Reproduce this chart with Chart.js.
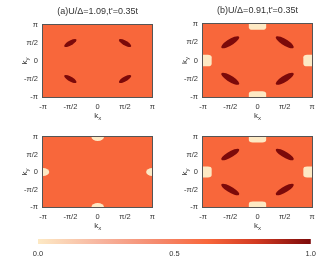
<!DOCTYPE html>
<html>
<head>
<meta charset="utf-8">
<script src="https://cdn.jsdelivr.net/npm/chart.js@4.4.1/dist/chart.umd.min.js"></script>
<style>
  html, body { margin: 0; padding: 0; background: #fff; }
  #wrap { position: relative; width: 321px; height: 258px; overflow: hidden; }
  #wrap div { position: absolute; }
</style>
</head>
<body>
<div id="wrap">
  <div style="left:0;top:0;width:160px;height:125px"><canvas id="pa"></canvas></div>
  <div style="left:160px;top:0;width:161px;height:125px"><canvas id="pb"></canvas></div>
  <div style="left:0;top:125px;width:160px;height:110px"><canvas id="pc"></canvas></div>
  <div style="left:160px;top:125px;width:161px;height:110px"><canvas id="pd"></canvas></div>
  <div style="left:0;top:232px;width:321px;height:26px"><canvas id="cb"></canvas></div>
</div>
<script>
const PI = Math.PI;

// axis ticks (both kx and ky)
const tickVals = [-PI, -PI / 2, 0, PI / 2, PI];
const tickText = ["-\u03c0", "-\u03c0/2", "0", "\u03c0/2", "\u03c0"];

// panels a, b, c, d
const panelIds = ["pa", "pb", "pc", "pd"];
const panelTitles = ["(a)U/\u0394=1.09,t'=0.35t", "(b)U/\u0394=0.91,t'=0.35t", "", ""];

// dark nodal pockets near (+-pi/2, +-pi/2)
const nodeKx = [-PI / 2, PI / 2, -PI / 2, PI / 2];
const nodeKy = [PI / 2, PI / 2, -PI / 2, -PI / 2];
const nodeTilt = [45, -45, -45, 45];            // degrees, in k-space
const nodeLong = [0.47, 0.7, 0, 0.7];           // semi-major, rad
const nodeShort = [0.18, 0.23, 0, 0.23];        // semi-minor, rad

// pale antinodal pockets at (0, +-pi), (+-pi, 0)
const pocketKx = [0, 0, -PI, PI];
const pocketKy = [PI, -PI, 0, 0];
const pocketHalf = [0, 0.5, 0.36, 0.5];         // half-size, rad
const pocketRound = [0, 0.22, 0.36, 0.22];      // corner radius, rad

// weight values
const bgValue = 0.62;
const nodeValue = 1.0;
const pocketValue = 0.0;

// colour bar
const cbTicks = [0, 0.5, 1];
const cbText = ["0.0", "0.5", "1.0"];

const cmapStops = [
    [0.0, "#fde9c4"],
    [0.22, "#f7b6a0"],
    [0.45, "#f5876a"],
    [0.62, "#f8673b"],
    [0.8, "#d23a22"],
    [1.0, "#7c0a0a"],
];

// nearest stop colour for a weight value
function cmap(v) {
    let best = cmapStops[0];
    for (const s of cmapStops) {
        if (Math.abs(s[0] - v) < Math.abs(best[0] - v)) best = s;
    }
    return best[1];
}

const FONT = "'Liberation Sans', Arial, sans-serif";
const TXT = "#333";

// fill, blobs, frame, titles
const mapPlugin = {
    id: "kmap",
    beforeDatasetsDraw(chart) {
        const { ctx, chartArea: a } = chart;
        ctx.save();
        ctx.fillStyle = cmap(bgValue);
        ctx.fillRect(a.left, a.top, a.right - a.left, a.bottom - a.top);
        ctx.beginPath();
        ctx.rect(a.left, a.top, a.right - a.left, a.bottom - a.top);
        ctx.clip();
        const xs = chart.scales.x, ys = chart.scales.y;
        const sx = xs.getPixelForValue(1) - xs.getPixelForValue(0);
        const sy = ys.getPixelForValue(0) - ys.getPixelForValue(1);
        for (const ds of chart.data.datasets) {
            ds.data.forEach(p => {
                ctx.save();
                ctx.translate(xs.getPixelForValue(p.x), ys.getPixelForValue(p.y));
                ctx.scale(sx, -sy);
                ctx.beginPath();
                if (ds.kind === "node") {
                    ctx.rotate(p.tilt * PI / 180);
                    ctx.ellipse(0, 0, ds.rLong, ds.rShort, 0, 0, 2 * PI);
                } else {
                    const h = ds.half;
                    ctx.roundRect(-h, -h, 2 * h, 2 * h, ds.round);
                }
                ctx.fillStyle = ds.color;
                ctx.fill();
                ctx.restore();
            });
        }
        ctx.restore();
    },
    afterDraw(chart) {
        const { ctx, chartArea: a } = chart;
        const o = chart.options.plugins.kmap;
        ctx.save();
        ctx.strokeStyle = "#555";
        ctx.lineWidth = 1;
        ctx.strokeRect(Math.round(a.left) - 0.5, Math.round(a.top) - 0.5,
            Math.round(a.right - a.left) + 1, Math.round(a.bottom - a.top) + 1);
        ctx.fillStyle = TXT;
        const cx = (a.left + a.right) / 2;
        if (o.title) {
            ctx.font = "9px " + FONT;
            ctx.textAlign = "center";
            ctx.textBaseline = "middle";
            ctx.fillText(o.title, cx, a.top - 13);
        }
        // k_x
        drawSub(ctx, "k", "x", cx, a.bottom + 19);
        // k_y
        ctx.translate(a.left - 18, (a.top + a.bottom) / 2);
        ctx.rotate(-PI / 2);
        drawSub(ctx, "k", "y", 0, 0);
        ctx.restore();
    }
};

function drawSub(ctx, main, sub, x, y) {
    ctx.font = "8px " + FONT;
    const w1 = ctx.measureText(main).width;
    ctx.font = "6px " + FONT;
    const w2 = ctx.measureText(sub).width;
    const x0 = x - (w1 + w2) / 2;
    ctx.textAlign = "left";
    ctx.textBaseline = "middle";
    ctx.font = "8px " + FONT;
    ctx.fillText(main, x0, y);
    ctx.font = "6px " + FONT;
    ctx.fillText(sub, x0 + w1, y + 2.5);
}

function kAxis(fitSize, horizontal) {
    return {
        type: "linear",
        min: -PI,
        max: PI,
        afterBuildTicks: s => { s.ticks = tickVals.map(v => ({ value: v })); },
        afterFit: s => { if (horizontal) s.height = fitSize; else s.width = fitSize; },
        grid: { display: false, drawTicks: false },
        border: { display: false },
        ticks: {
            autoSkip: false,
            maxRotation: 0,
            padding: 5,
            color: TXT,
            font: { family: FONT, size: 7.5 },
            callback: v => tickText[tickVals.findIndex(t => Math.abs(t - v) < 1e-6)]
        }
    };
}

function makePanel(i, pad, yWidth, xHeight) {
    const datasets = [];
    if (nodeLong[i] > 0) {
        datasets.push({
            kind: "node",
            data: nodeKx.map((x, j) => ({ x, y: nodeKy[j], tilt: nodeTilt[j] })),
            rLong: nodeLong[i],
            rShort: nodeShort[i],
            color: cmap(nodeValue),
            pointRadius: 0
        });
    }
    if (pocketHalf[i] > 0) {
        datasets.push({
            kind: "pocket",
            data: pocketKx.map((x, j) => ({ x, y: pocketKy[j] })),
            half: pocketHalf[i],
            round: pocketRound[i],
            color: cmap(pocketValue),
            pointRadius: 0
        });
    }
    return new Chart(document.getElementById(panelIds[i]), {
        type: "scatter",
        data: { datasets },
        options: {
            responsive: true,
            maintainAspectRatio: false,
            animation: false,
            layout: { padding: pad },
            plugins: {
                legend: { display: false },
                tooltip: { enabled: false },
                kmap: { title: panelTitles[i] }
            },
            scales: {
                x: kAxis(xHeight, true),
                y: kAxis(yWidth, false)
            }
        },
        plugins: [mapPlugin]
    });
}

makePanel(0, { top: 25, right: 7, left: 0, bottom: 0 }, 43, 28);
makePanel(1, { top: 24, right: 9, left: 0, bottom: 0 }, 43, 28);
makePanel(2, { top: 12, right: 7, left: 0, bottom: 0 }, 43, 28);
makePanel(3, { top: 12, right: 9, left: 0, bottom: 0 }, 43, 28);

// colour bar
new Chart(document.getElementById("cb"), {
    type: "bar",
    data: {
        labels: [""],
        datasets: [{
            data: [[cbTicks[0], cbTicks[cbTicks.length - 1]]],
            barPercentage: 1,
            categoryPercentage: 1,
            borderWidth: 0,
            backgroundColor: ctx => {
                const a = ctx.chart.chartArea;
                if (!a) return cmap(0.5);
                const g = ctx.chart.ctx.createLinearGradient(a.left, 0, a.right, 0);
                cmapStops.forEach(([p, c]) => g.addColorStop(p, c));
                return g;
            }
        }]
    },
    options: {
        indexAxis: "y",
        responsive: true,
        maintainAspectRatio: false,
        animation: false,
        layout: { padding: { top: 7, left: 38, right: 10, bottom: 0 } },
        plugins: { legend: { display: false }, tooltip: { enabled: false } },
        scales: {
            y: { display: false },
            x: {
                type: "linear",
                min: 0,
                max: 1,
                afterBuildTicks: s => { s.ticks = cbTicks.map(v => ({ value: v })); },
                afterFit: s => { s.height = 14; },
                grid: { display: false, drawTicks: false },
                border: { display: false },
                ticks: {
                    padding: 5,
                    color: TXT,
                    font: { family: FONT, size: 7.5 },
                    callback: v => cbText[cbTicks.indexOf(v)]
                }
            }
        }
    }
});
</script>
</body>
</html>
